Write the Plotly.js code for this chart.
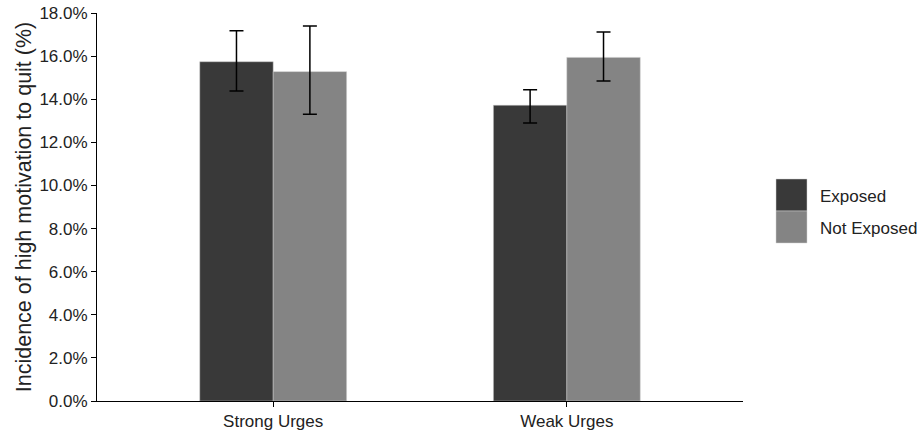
<!DOCTYPE html>
<html>
<head>
<meta charset="utf-8">
<script src="https://cdn.plot.ly/plotly-3.0.1.min.js"></script>
<style>html,body{margin:0;padding:0;background:#fff;}#chart{width:921px;height:430px;}</style>
</head>
<body>
<div id="chart"></div>
<script>
const categories = ["Strong Urges", "Weak Urges"];
const seriesNames = ["Exposed", "Not Exposed"];
const exposed = [15.74, 13.72];
const exposedHigh = [17.18, 14.44];
const exposedLow = [14.38, 12.90];
const notExposed = [15.28, 15.94];
const notExposedHigh = [17.40, 17.12];
const notExposedLow = [13.30, 14.85];
const yTicks = [0, 2, 4, 6, 8, 10, 12, 14, 16, 18];
const colors = ["#393939", "#848484"];

function mkTrace(name, vals, hi, lo, color) {
  return {
    type: "bar", name: name, x: categories, y: vals,
    marker: {color: color, line: {color: "#c8c8c8", width: 0.5}},
    error_y: {type: "data", symmetric: false,
      array: hi.map((h, i) => h - vals[i]),
      arrayminus: lo.map((l, i) => vals[i] - l),
      color: "#000", thickness: 1.5, width: 7},
    showlegend: false
  };
}
const data = [
  mkTrace(seriesNames[0], exposed, exposedHigh, exposedLow, colors[0]),
  mkTrace(seriesNames[1], notExposed, notExposedHigh, notExposedLow, colors[1])
];

const font = {family: "Liberation Sans, Arial, sans-serif", color: "#222"};
const shapes = [], annotations = [];
seriesNames.forEach((n, i) => {
  const y1 = 1 - (179 - 13 + i * 32) / 388;
  const y0 = y1 - 32 / 388;
  shapes.push({type: "rect", xref: "paper", yref: "paper",
    x0: (776 - 97) / 646, x1: (807 - 97) / 646, y0: y0, y1: y1,
    fillcolor: colors[i], line: {color: "#d0d0d0", width: 0.5}});
  annotations.push({xref: "paper", yref: "paper", x: (818 - 97) / 646, y: (y0 + y1) / 2 - 0.004,
    xanchor: "left", yanchor: "middle", text: n, showarrow: false,
    font: Object.assign({}, font, {size: 17})});
});

const layout = {
  width: 921, height: 430,
  margin: {l: 97, r: 178, t: 13, b: 29},
  paper_bgcolor: "#fff", plot_bgcolor: "#fff",
  barmode: "group", bargap: 0.5, bargroupgap: 0,
  font: font,
  xaxis: {type: "category", range: [-0.6, 1.6], showline: true, linecolor: "#000", linewidth: 1,
    ticks: "outside", ticklen: 5, tickcolor: "#000", showgrid: false, zeroline: false,
    tickfont: Object.assign({}, font, {size: 17}), automargin: false},
  yaxis: {range: [0, 18], tickvals: yTicks, ticktext: yTicks.map(v => v.toFixed(1) + "%"),
    showline: true, linecolor: "#000", linewidth: 1, ticks: "outside", ticklen: 5, tickcolor: "#000",
    showgrid: false, zeroline: false, tickfont: Object.assign({}, font, {size: 17}), automargin: false,
    title: {text: "Incidence of high motivation to quit (%)", font: Object.assign({}, font, {size: 21.5}), standoff: 1}},
  shapes: shapes, annotations: annotations, showlegend: false
};
Plotly.newPlot("chart", data, layout, {displayModeBar: false, staticPlot: true});
</script>
</body>
</html>
